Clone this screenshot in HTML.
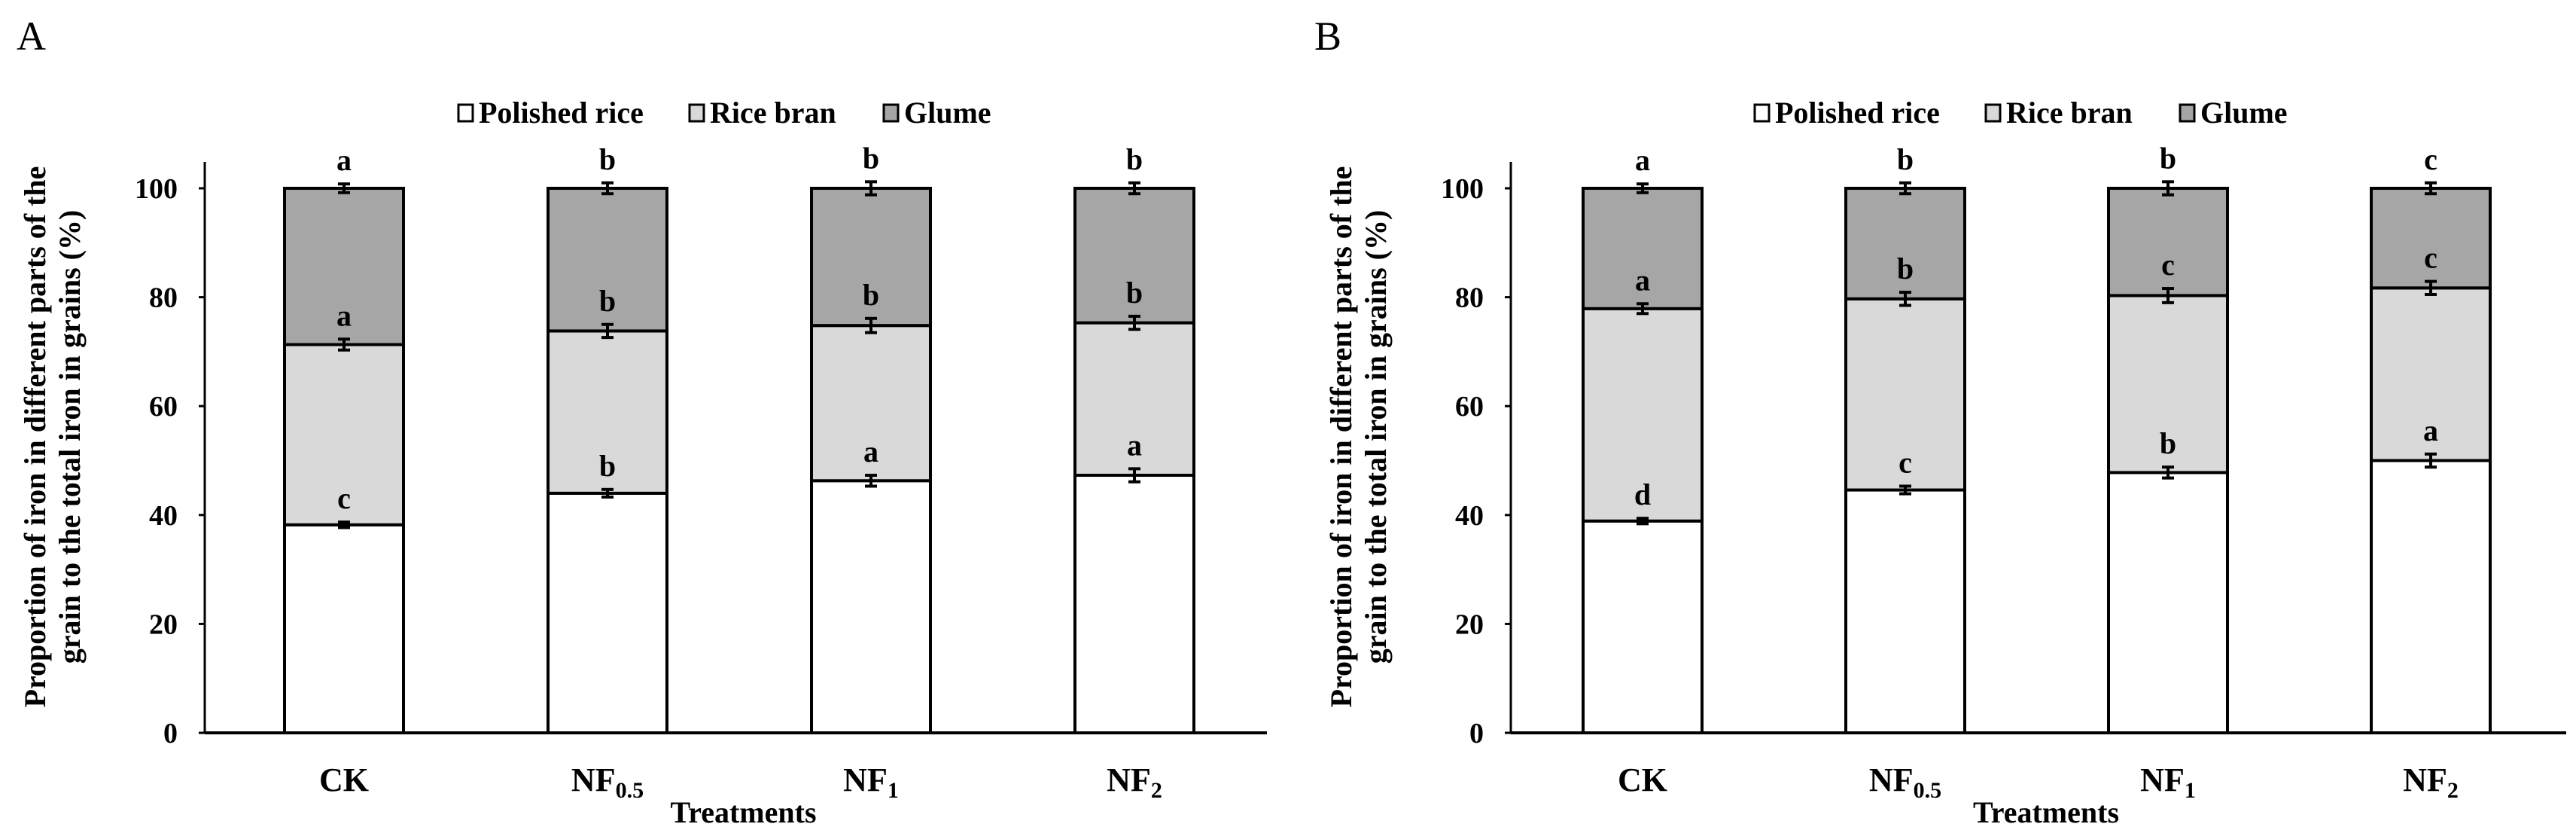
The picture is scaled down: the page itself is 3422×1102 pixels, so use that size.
<!DOCTYPE html>
<html><head><meta charset="utf-8"><style>
html,body{margin:0;padding:0;background:#fff;}
svg{display:block;}
text{font-family:"Liberation Serif",serif;}
</style></head><body>
<svg id="chart" width="3422" height="1102" viewBox="0 0 3422 1102" xmlns="http://www.w3.org/2000/svg"></svg>
<script>
const categories = ["CK","NF","NF","NF"];
const categorySubs = ["","0.5","1","2"];
const yTicks = [0,20,40,60,80,100];
const seriesNames = ["Polished rice","Rice bran","Glume"];
const seriesColors = ["#ffffff","#d9d9d9","#a6a6a6"];
// Panel A
const polishedA = [38.2,44.0,46.3,47.3];
const branA = [33.1,29.8,28.5,28.0];
const glumeA = [28.7,26.2,25.2,24.7];
const errPolA = [0.5,0.7,1.0,1.2];
const errBranA = [1.0,1.2,1.3,1.2];
const errGlumeA = [0.8,1.0,1.2,1.0];
const lettersPolA = ["c","b","a","a"];
const lettersBranA = ["a","b","b","b"];
const lettersGlumeA = ["a","b","b","b"];
// Panel B
const polishedB = [38.9,44.6,47.8,50.0];
const branB = [39.0,35.1,32.5,31.7];
const glumeB = [22.1,20.3,19.7,18.3];
const errPolB = [0.5,0.7,1.0,1.2];
const errBranB = [0.9,1.2,1.3,1.2];
const errGlumeB = [0.8,1.0,1.2,1.0];
const lettersPolB = ["d","c","b","a"];
const lettersBranB = ["a","b","c","c"];
const lettersGlumeB = ["a","b","b","c"];

const NS="http://www.w3.org/2000/svg";
const svg=document.getElementById('chart');
function mk(tag,attrs,parent,txt){const e=document.createElementNS(NS,tag);for(const k in attrs)e.setAttribute(k,attrs[k]);if(txt!==undefined)e.textContent=txt;(parent||svg).appendChild(e);return e;}

function panel(P){
  const g=mk('g',{});
  
  
  const y0=973,y100=250;
  const ys=v=>y0-(y0-y100)*v/100;
  const xc=i=>P.c0+P.step*i;
  const bw=158;
  const lab=mk('text',{x:P.labX,y:66,'font-size':54},g,P.id);
  
  
  // legend
  const leg=mk('g',{},g);
  
  
  const lx=[P.legX,P.legX+307,P.legX+565];
  seriesNames.forEach((n,i)=>{
    const le=mk('g',{},leg);
    
    
    mk('rect',{x:lx[i],y:139,width:19,height:22,fill:seriesColors[i],stroke:'#000','stroke-width':3},le);
    mk('text',{x:lx[i]+27,y:163,'font-size':40,'font-weight':'bold'},le,n);
  });
  // axes
  const ya=mk('line',{x1:P.ax,y1:215,x2:P.ax,y2:y0,stroke:'#000','stroke-width':3},g);
  
  
  yTicks.forEach(t=>{
    mk('line',{x1:P.ax-8,y1:ys(t),x2:P.ax,y2:ys(t),stroke:'#000','stroke-width':3},g);
    const tl=mk('text',{x:P.ax-36,y:ys(t)+13,'font-size':38,'font-weight':'bold','text-anchor':'end'},g,t);
    
    
  });
  const yt=mk('text',{transform:`translate(${P.ax-212},580) rotate(-90)`,'font-size':40,'font-weight':'bold','text-anchor':'middle'},g);
  
  
  mk('tspan',{x:0,dy:0},yt,'Proportion of iron in different parts of the');
  mk('tspan',{x:0,dy:46},yt,'grain to the total iron in grains (%)');
  // bars
  const series=[P.pol,P.bran,P.glume],errs=[P.ePol,P.eBran,P.eGlume],lets=[P.lPol,P.lBran,P.lGlume];
  categories.forEach((c,i)=>{
    let base=0;
    series.forEach((s,k)=>{
      const top=base+s[i];
      const r=mk('rect',{x:xc(i)-bw/2,y:ys(top),width:bw,height:ys(base)-ys(top),fill:seriesColors[k],stroke:'#000','stroke-width':4},g);
      
      
      base=top;
    });
    base=0;
    series.forEach((s,k)=>{
      const top=base+s[i];const e=errs[k][i];
      const eg=mk('g',{stroke:'#000','stroke-width':4},g);
      
      
      mk('line',{x1:xc(i),y1:ys(top+e),x2:xc(i),y2:ys(top-e)},eg);
      mk('line',{x1:xc(i)-8,y1:ys(top+e),x2:xc(i)+8,y2:ys(top+e)},eg);
      mk('line',{x1:xc(i)-8,y1:ys(top-e),x2:xc(i)+8,y2:ys(top-e)},eg);
      const lt=mk('text',{x:xc(i),y:ys(top+e)-18,'font-size':40,'font-weight':'bold','text-anchor':'middle'},g,lets[k][i]);
      
      
      base=top;
    });
    const cl=mk('text',{x:xc(i),y:1050,'font-size':44,'font-weight':'bold','text-anchor':'middle'},g,c);
    
    
    if(categorySubs[i]) mk('tspan',{'font-size':30,dy:9},cl,categorySubs[i]);
  });
  const xa=mk('line',{x1:P.ax,y1:y0,x2:P.axEnd,y2:y0,stroke:'#000','stroke-width':4},g);
  
  
  const xt=mk('text',{x:(P.ax+P.axEnd)/2+10,y:1092,'font-size':40,'font-weight':'bold','text-anchor':'middle'},g,'Treatments');
  
  
}
panel({id:'A',labX:22,legX:609,ax:272,axEnd:1683,c0:457,step:350,pol:polishedA,bran:branA,glume:glumeA,ePol:errPolA,eBran:errBranA,eGlume:errGlumeA,lPol:lettersPolA,lBran:lettersBranA,lGlume:lettersGlumeA});
panel({id:'B',labX:1746,legX:2331,ax:2007,axEnd:3409,c0:2182,step:349,pol:polishedB,bran:branB,glume:glumeB,ePol:errPolB,eBran:errBranB,eGlume:errGlumeB,lPol:lettersPolB,lBran:lettersBranB,lGlume:lettersGlumeB});
</script>
</body></html>
